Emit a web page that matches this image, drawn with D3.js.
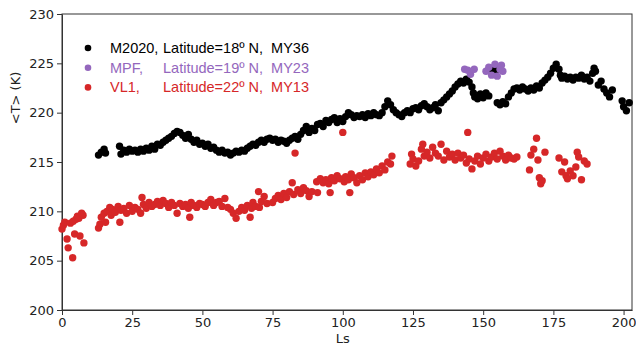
<!DOCTYPE html>
<html lang="en">
<head>
  <meta charset="UTF-8">
  <script src="https://cdn.jsdelivr.net/npm/d3@7/dist/d3.min.js"></script>
  <title>Temperature vs Ls</title>
  <style>
    body { margin: 0; background: #fff; }
    text { font-family: 'DejaVu Sans', sans-serif; }
    .tick text { font-size: 13px; fill: #222; }
    .legend text { font-family: 'Liberation Sans', Arial, sans-serif; font-size: 14.5px; white-space: pre; }
  </style>
</head>
<body>
<script>
  // M2020, Latitude=18º N, MY36  -> [Ls, T]
  const m2020 = [
    [13,215.7],[14,216.0],[15.5,215.9],[15,216.3],
    [20.5,216.6],[21,215.8],[22,216.2],[23,216.0],[24,216.3],[25,216.1],[26,216.2],[27,216.0],[28,216.3],[29,216.1],
    [30,216.4],[31,216.2],[32,216.6],[33,216.3],[34,216.8],[35,216.7],[36,217.0],[37,217.2],[38,217.4],[39,217.6],
    [40,217.9],[41,218.1],[42,218.0],[43,217.7],[44,217.4],[45,217.8],[46,217.3],[47,217.0],[48,217.2],[49,216.8],
    [50,216.9],[51,216.6],[52,216.8],[53,216.4],[54,216.5],[55,216.2],[56,216.0],[57,216.2],[58,215.9],[59,216.0],
    [60,215.7],[61,215.9],[62,216.1],[63,216.0],[64,216.2],[65,216.1],[66,216.4],[67,216.6],[68,216.8],[69,216.7],
    [70,217.0],[71,217.2],[72,217.0],[73,217.3],[74,217.4],[75,217.2],[76,217.3],[77,217.0],[78,217.2],[79,217.1],
    [80,216.9],[81,217.2],[82,217.4],[83,217.6],[84,217.3],[85,217.8],[86,218.2],[87,218.6],[88,218.0],[89,218.4],
    [90,218.2],[91,218.8],[92,218.9],[93,218.6],[94,219.2],[95,219.0],[96,219.3],[97,219.5],[98,219.0],[99,219.4],
    [100,219.1],[101,219.6],[102,220.0],[103,219.8],[104,219.5],[105,219.7],[106,219.6],[107,219.8],[108,219.5],[109,219.9],
    [110,219.7],[111,220.0],[112,219.8],[113,219.7],[114,220.0],[115,220.6],[116,221.2],[117,220.8],[118,220.3],[119,220.0],
    [120,219.8],[121,219.6],[122,220.0],[123,220.2],[124,220.0],[125,220.4],[126,220.5],[127,220.3],[128,220.7],[129,220.9],
    [130,220.6],[131,220.3],[132,220.5],[133,220.8],[134,220.2],[135,221.0],[136,221.3],[137,221.6],[138,221.9],[139,222.2],
    [140,222.6],[141,222.9],[142,223.2],[143,223.0],[144,223.4],[145,223.1],[146,222.6],[146.5,222.0],[147,221.6],[148,221.4],
    [149,221.9],[150,221.5],[151,222.0],[152,221.7],[153,224.4],[154,224.6],[154.5,224.3],[155,221.0],[156,220.8],[157,221.1],
    [158,220.9],[159,221.6],[160,222.0],[161,222.4],[162,222.5],[163,222.3],[164,222.6],[165,222.4],[166,222.2],[167,222.5],
    [168,222.3],[169,222.7],[170,222.5],[171,223.0],[172,223.3],[173,223.6],[174,224.0],[175,224.5],[176,224.9],[177,224.4],
    [177.5,223.8],[178,223.5],[179,223.7],[180,223.4],[181,223.6],[182,223.3],[183,223.6],[184,223.5],[185,223.8],[186,223.4],
    [187,223.6],[188,223.2],[189,224.0],[189.5,224.5],[190,224.2],[191,222.8],[192,223.2],[193,222.4],[194,222.0],[195,221.6],
    [196,222.3],[199.5,221.2],[200,220.6],[201,220.2],[202,221.0]
  ];

  // MPF, Latitude=19º N, MY23
  const mpf = [
    [143.4,224.4],[144.5,224.3],[145.5,223.9],[146.8,224.4],
    [151,224.2],[152,224.6],[153,223.8],[154.2,224.9],[155,223.7],[156,224.4],[157,224.2],[156.5,224.8]
  ];

  // VL1, Latitude=22º N, MY13
  const vl1 = [
    [0,208.2],[0.5,208.6],[1,208.9],[1.8,207.2],[2.2,206.3],[3,208.8],[3.8,205.3],[4,209.0],[4.5,207.7],[5,209.2],
    [5.5,209.5],[6,209.3],[6.4,207.5],[7,209.8],[7.5,209.6],[7.8,206.8],
    [13,208.3],[13.5,208.7],[14,209.4],[15,209.8],[15.5,208.9],[16,210.0],[17,210.4],[17.5,209.6],[18,210.2],[19,209.9],
    [20,210.5],[20.6,208.9],[21,210.1],[22,210.3],[23,209.8],[24,210.6],[25,210.0],[26,210.4],[27,210.2],[28,209.8],
    [28.5,211.4],[29,210.7],[30,210.3],[31,210.9],[32,210.5],[33,210.7],[34,211.0],[35,210.6],[36,211.1],[37,210.8],
    [38,210.4],[39,210.9],[40,210.6],[41,209.8],[42,210.8],[43,210.5],[44,210.7],[45,210.3],[45.5,209.4],[46,210.9],
    [47,210.6],[48,210.4],[49,210.8],[50,210.7],[51,210.5],[52,210.9],[53,211.2],[54,210.6],[55,210.9],[56,211.0],
    [57,210.5],[58,211.3],[59,210.4],[60,210.2],[61,209.8],[62,209.3],[63,210.0],[64,210.4],[65,210.1],[66,210.6],
    [67,209.4],[67.5,210.3],[68,210.9],[69,210.5],[70,212.0],[70.3,210.4],[71,211.0],[72,211.5],[73,210.8],[75,210.9],
    [76,211.3],[77,211.6],[78,211.2],[79,211.8],[80,211.4],[81,212.0],[82,212.9],[82.5,211.7],[83,215.9],[84,212.2],
    [85,211.8],[86,212.4],[87,212.1],[88,211.5],[89,212.0],[90.7,213.0],[91,211.9],[92,213.3],[93,212.9],[94,213.2],
    [95,212.8],[95.5,211.9],[96,213.4],[97,213.1],[98,213.6],[99,213.3],[100,218.0],[100.5,213.0],[101,213.5],[102,213.2],
    [102.5,211.9],[103,213.8],[104,213.4],[105,212.9],[106,213.6],[107,213.2],[108,213.9],[109,213.5],[110,214.0],[111,213.7],
    [112,214.3],[113,213.9],[114,214.6],[115,214.2],[116,215.0],[117,214.8],[117.5,215.6],
    [124,214.8],[124.5,215.8],[125,215.3],[126,214.6],[127,215.1],[128,216.3],[128.5,216.8],[129,215.6],[130,216.0],[131,215.4],
    [132,216.5],[133,215.9],[134,215.6],[135,216.8],[136,215.2],[137,216.1],[138,215.5],[139,215.8],[140,215.2],[141,215.9],
    [142,215.4],[143,215.7],[144,214.9],[144.5,218.0],[145,215.3],[146,214.3],[147,215.1],[148,215.6],[149,214.8],[150,215.4],
    [151,215.8],[152,215.1],[153,215.5],[154,215.9],[155,215.3],[156,216.1],[157,215.6],[158,215.2],[159,215.7],[160,215.4],
    [161,215.3],[162,215.5],[166.5,214.2],[167,215.7],[168,216.3],[169,217.4],[169.5,215.2],[170,213.4],[170.5,212.8],[171,213.1],
    [172,216.0],[177,215.4],[178,214.0],[179,215.0],[179.5,213.6],[180,213.3],[181,214.1],[182,213.6],[183,214.5],[183.5,216.0],
    [184,215.5],[185,213.2],[186,215.1],[187,214.8]
  ];

  const xTicks = [0, 25, 50, 75, 100, 125, 150, 175, 200];
  const yTicks = [200, 205, 210, 215, 220, 225, 230];

  const legendItems = [
    { name: 'M2020,', rest: 'Latitude=18º N,  MY36', color: '#000000' },
    { name: 'MPF,', rest: 'Latitude=19º N,  MY23', color: '#9467bd' },
    { name: 'VL1,', rest: 'Latitude=22º N,  MY13', color: '#d62728' }
  ];

  const width = 636, height = 349;
  const plotL = 62, plotR = 632, plotT = 14, plotB = 310;

  const x = d3.scaleLinear().domain([0, 203]).range([plotL, plotR]);
  const y = d3.scaleLinear().domain([200, 230]).range([plotB, plotT]);

  const svg = d3.select('body').append('svg').attr('width', width).attr('height', height);

  // frame
  svg.append('rect').attr('x', plotL).attr('y', plotT)
    .attr('width', plotR - plotL).attr('height', plotB - plotT)
    .attr('fill', 'none').attr('stroke', '#333').attr('stroke-width', 1);

  const axisX = d3.axisBottom(x).tickValues(xTicks).tickSize(5).tickPadding(3).tickSizeOuter(0);
  const axisY = d3.axisLeft(y).tickValues(yTicks).tickSize(5).tickPadding(3).tickSizeOuter(0);

  const gx = svg.append('g').attr('transform', `translate(0,${plotB})`).call(axisX);
  const gy = svg.append('g').attr('transform', `translate(${plotL},0)`).call(axisY);
  [gx, gy].forEach(g => {
    g.select('.domain').attr('stroke', '#333');
    g.selectAll('.tick line').attr('stroke', '#333');
  });

  svg.append('text').attr('x', (x(0) + x(200)) / 2).attr('y', 343)
    .attr('text-anchor', 'middle').attr('font-size', 13).attr('fill', '#222').text('Ls');
  svg.append('text').attr('transform', 'translate(20,98) rotate(-90)')
    .attr('text-anchor', 'middle').attr('font-size', 13).attr('fill', '#222').text('<T> (K)');

  const series = [
    { data: vl1, color: '#d62728' },
    { data: m2020, color: '#000000' },
    { data: mpf, color: '#9467bd' }
  ];
  series.forEach(s => {
    svg.append('g').selectAll('circle').data(s.data).enter().append('circle')
      .attr('cx', d => x(d[0])).attr('cy', d => y(d[1]))
      .attr('r', 3.7).attr('fill', s.color);
  });

  // legend
  const lg = svg.append('g').attr('class', 'legend');
  legendItems.forEach((d, i) => {
    const yy = 48 + i * 19.7;
    lg.append('circle').attr('cx', 88).attr('cy', yy).attr('r', 3.3).attr('fill', d.color);
    lg.append('text').attr('x', 110).attr('y', yy + 5).attr('fill', d.color).text(d.name);
    lg.append('text').attr('x', 163).attr('y', yy + 5).attr('fill', d.color).text(d.rest);
  });
</script>
</body>
</html>
